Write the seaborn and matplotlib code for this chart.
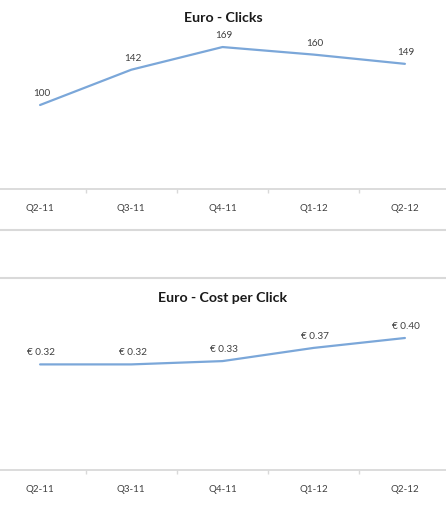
import numpy as np
import pandas as pd
import matplotlib
matplotlib.use("Agg")
import matplotlib.pyplot as plt
from matplotlib.lines import Line2D
from matplotlib.ticker import FixedLocator
import seaborn as sns

# data
quarters = ['Q2-11', 'Q3-11', 'Q4-11', 'Q1-12', 'Q2-12']
clicks = [100, 142, 169, 160, 149]
cost_per_click = [0.32, 0.32, 0.33, 0.37, 0.40]

sns.set_theme(style="white")
plt.rcParams['font.family'] = ['Lato', 'DejaVu Sans']

LINE = '#7ba7d9'
GRID = '#d9d9d9'
TEXT = '#404040'

fig = plt.figure(figsize=(4.46, 5.10), dpi=100)
H = 510.0

def box(top, bottom):
    return [0, 1 - bottom / H, 1, (bottom - top) / H]

ax1 = fig.add_axes(box(22, 190))
ax2 = fig.add_axes(box(306, 471))

df1 = pd.DataFrame({'quarter': quarters, 'value': clicks})
df2 = pd.DataFrame({'quarter': quarters, 'value': cost_per_click})

panels = [
    (ax1, df1, (0, 200), lambda v: f'{v:.0f}', 'Euro - Clicks', 18),
    (ax2, df2, (0, 0.5), lambda v: f'€ {v:.2f}', 'Euro - Cost per Click', 298),
]

for ax, df, ylim, fmt, title, ty in panels:
    sns.lineplot(data=df, x='quarter', y='value', ax=ax, color=LINE,
                 linewidth=1.6, sort=False)
    for i, v in enumerate(df['value']):
        ax.annotate(fmt(v), (i, v), xytext=(1, 9), textcoords='offset points',
                    ha='center', va='center', fontsize=7.2, color=TEXT)
    ax.set_xlim(-40 / 91, 4 + 41 / 91)
    ax.set_ylim(*ylim)
    ax.set_yticks([])
    ax.set_xlabel('')
    ax.set_ylabel('')
    for s in ['top', 'left', 'right']:
        ax.spines[s].set_visible(False)
    ax.spines['bottom'].set_color(GRID)
    ax.spines['bottom'].set_linewidth(1.3)
    ax.xaxis.set_minor_locator(FixedLocator([0.5, 1.5, 2.5, 3.5]))
    ax.tick_params(axis='x', which='major', length=0, pad=10,
                   labelsize=7, labelcolor=TEXT)
    ax.tick_params(axis='x', which='minor', bottom=True, length=3,
                   width=1, color=GRID)
    ax.patch.set_alpha(0)
    fig.text(0.5, 1 - ty / H, title, ha='center', va='center',
             fontsize=10.2, fontweight='bold', color='#1a1a1a')

# chart borders between the two panels
for y in [231, 279]:
    fig.add_artist(Line2D([0, 1], [1 - y / H, 1 - y / H], color=GRID,
                          linewidth=1.5, transform=fig.transFigure))

fig.savefig('out.png', dpi=100)
